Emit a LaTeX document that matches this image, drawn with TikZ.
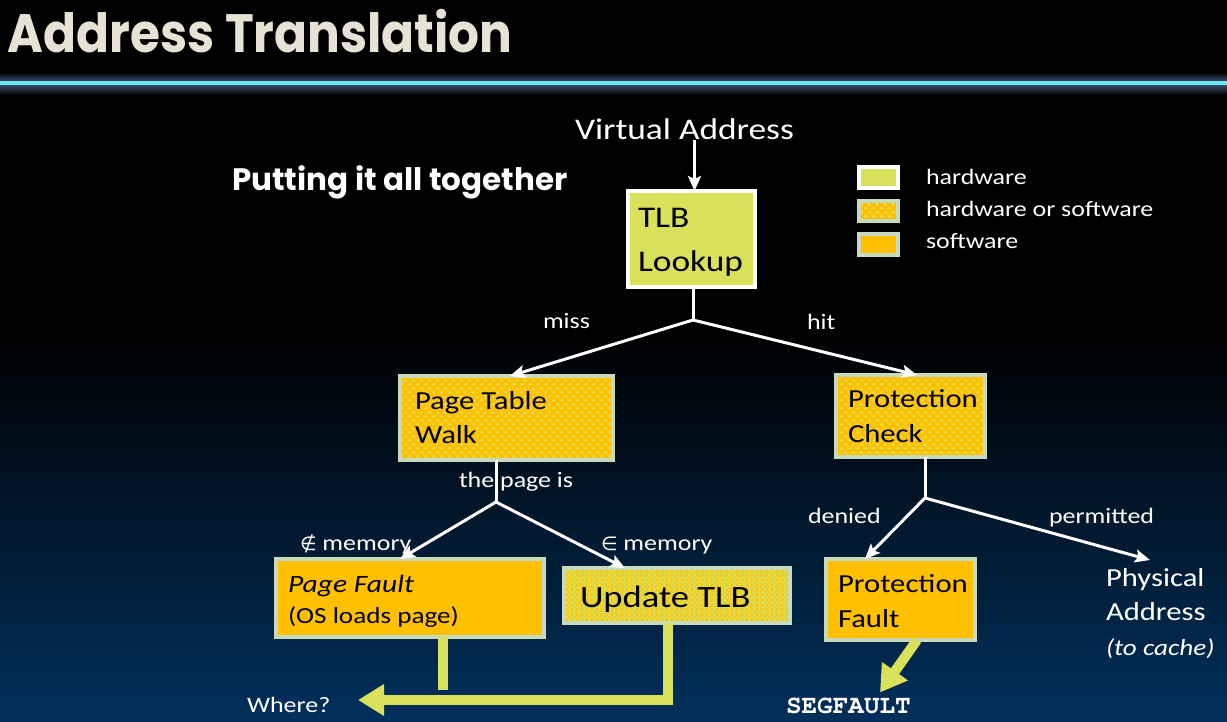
\documentclass[tikz,border=0pt]{standalone}
\usepackage{fontspec}
\usepackage{graphicx}
\setmainfont{Carlito}[FakeStretch=1.18]
\newfontfamily\titlefont{Poppins}
\newfontfamily\segfont{texgyrecursor-bold.otf}
\newfontfamily\symfont{DejaVu Sans}
\usetikzlibrary{arrows.meta,patterns.meta,calc}
\definecolor{hwcol}{RGB}{217,224,90}
\definecolor{swcol}{RGB}{255,192,0}
\definecolor{bordercol}{RGB}{200,218,190}
\definecolor{titlecol}{RGB}{232,226,214}
\definecolor{bgblue}{RGB}{2,48,92}
\definecolor{glowcol}{RGB}{70,90,125}
\definecolor{cyancol}{RGB}{110,232,242}
\tikzdeclarepattern{
  name=hwswdots, type=uncolored,
  bottom left={(0pt,0pt)}, top right={(8pt,8pt)}, tile size={(8pt,8pt)},
  code={\fill (2pt,2pt) circle (1.9pt); \fill (6pt,6pt) circle (1.9pt);}
}
\tikzdeclarepattern{
  name=weave, type=uncolored,
  bottom left={(0pt,0pt)}, top right={(5pt,5pt)}, tile size={(5pt,5pt)},
  code={\pgfsetlinewidth{0.9pt}\draw (0pt,0pt) -- (5pt,5pt); \draw (0pt,5pt) -- (2pt,3pt); \draw (3pt,2pt) -- (5pt,0pt);}
}
\begin{document}
\begin{tikzpicture}[x=1pt,y=-1pt,
  box/.style={draw=bordercol, line width=4pt, inner sep=0pt, outer sep=0pt, anchor=north west},
  hwbox/.style={box, draw=white, fill=hwcol},
  swbox/.style={box, fill=swcol},
  hwswbox/.style={box, preaction={fill=swcol}, preaction={pattern={hwswdots}, pattern color=hwcol}},
  utlbbox/.style={box, preaction={fill=hwcol}, preaction={pattern={weave}, pattern color=swcol}},
  txt/.style={inner sep=0pt, outer sep=0pt, anchor=base west, text=black},
  wtxt/.style={txt, text=white},
  wline/.style={draw=white, line width=3pt},
  warrow/.style={wline, -{Stealth[length=15pt,width=13pt,inset=3pt]}},
  yline/.style={draw=hwcol, line width=10pt},
  yarrow/.style={yline, -{Triangle[length=26pt,width=30pt]}},
  bigf/.style={font=\fontsize{30}{36}\selectfont},
  midf/.style={font=\fontsize{26}{32}\selectfont},
  smallf/.style={font=\fontsize{22}{26}\selectfont}
]
\useasboundingbox (0,0) rectangle (1227,722);
% background
\fill[black] (0,0) rectangle (1227,330);
\shade[top color=black, bottom color=bgblue] (0,329) rectangle (1227,722);
\shade[top color=black, bottom color=glowcol] (0,72) rectangle (1227,83);
\shade[top color=glowcol, bottom color=black] (0,83) rectangle (1227,95);
\draw[cyancol, line width=3.5pt] (0,83) -- (1227,83);

% titles
\node[txt, text=titlecol, font=\titlefont\bfseries\fontsize{54}{60}\selectfont] (title) at (8,53) {\scalebox{0.9}[1]{Address Translation}};
\node[txt, text=white, font=\titlefont\bfseries\fontsize{31}{36}\selectfont] (sub) at (232,191) {Putting it all together};

% legend
\node[hwbox, minimum width=39pt, minimum height=21pt] (lhw) at (859,167) {};
\node[hwswbox, minimum width=39pt, minimum height=20pt] (lhwsw) at (859,201) {};
\node[swbox, minimum width=39pt, minimum height=21pt] (lsw) at (859,234) {};
\node[wtxt, smallf] (lhwt) at (926,185) {hardware};
\node[wtxt, smallf] (lhwswt) at (926,217) {hardware or software};
\node[wtxt, smallf] (lswt) at (926,249) {software};

% boxes
\node[hwbox, minimum width=127pt, minimum height=96pt] (tlb) at (628,191) {};
\node[hwswbox, minimum width=213pt, minimum height=84pt] (ptw) at (400,376) {};
\node[hwswbox, minimum width=149pt, minimum height=82pt] (pc) at (836,375) {};
\node[swbox, minimum width=268pt, minimum height=78pt] (pf) at (276,559) {};
\node[utlbbox, minimum width=226pt, minimum height=55pt] (utlb) at (564,568) {};
\node[swbox, minimum width=149pt, minimum height=81pt] (protf) at (826,559) {};

% box texts
\node[txt, bigf] (tlbt1) at (638,228) {TLB};
\node[txt, bigf] (tlbt2) at (638,272) {Lookup};
\node[txt, midf] (ptwt1) at (415,409) {Page Table};
\node[txt, midf] (ptwt2) at (415,443) {Walk};
\node[txt, midf] (pct1) at (848,407) {Protection};
\node[txt, midf] (pct2) at (848,442) {Check};
\node[txt, font=\fontsize{25}{30}\selectfont\itshape] (pft1) at (288,592) {Page Fault};
\node[txt, font=\fontsize{23}{28}\selectfont] (pft2) at (288,623) {(OS loads page)};
\node[txt, font=\fontsize{31}{36}\selectfont] (utlbt) at (580,607) {Update TLB};
\node[txt, midf] (protft1) at (838,592) {Protection};
\node[txt, midf] (protft2) at (838,627) {Fault};

% free texts
\node[wtxt, font=\fontsize{30}{36}\selectfont] (va) at (575,140) {Virtual Address};
\node[wtxt, smallf] (miss) at (543,328) {miss};
\node[wtxt, smallf] (hit) at (807,329) {hit};
\node[wtxt, smallf] (pageis) at (459,487) {the page is};
\node[wtxt, smallf] (notin) at (300,550) {{\symfont\fontsize{19}{22}\selectfont ∉}\ memory};
\node[wtxt, smallf] (isin) at (601,550) {{\symfont\fontsize{19}{22}\selectfont ∈}\ memory};
\node[wtxt, smallf] (denied) at (808,523) {denied};
\node[wtxt, smallf] (perm) at (1049,523) {permitted};
\node[wtxt, align=left, anchor=north west, font=\fontsize{26}{34.5}\selectfont] (phys) at (1106,568) {Physical\\Address\\{\fontsize{23}{34.5}\selectfont\itshape (to cache)}};
\node[wtxt, font=\segfont\fontsize{26}{30}\selectfont] (seg) at (786,713) {SEGFAULT};
\node[wtxt, smallf] (where) at (247,712) {Where?};

% junctions
\coordinate (s1) at (693,320);
\coordinate (s2) at (496,502);
\coordinate (s3) at (925,498);
\coordinate (wtip) at (358,700);
\coordinate (ycorner) at (668,700);

% white connectors
\draw[warrow] ([xshift=3pt]tlb.north |- va.south) -- ([xshift=3pt]tlb.north);
\draw[wline] (s1 |- tlb.south) -- (s1);
\draw[warrow] (s1) -- ([xshift=110pt]ptw.north west);
\draw[warrow] (s1) -- ([xshift=81pt]pc.north west);
\draw[wline] (s2 |- ptw.south) -- (s2);
\draw[warrow] (s2) -- ([xshift=124pt]pf.north west);
\draw[warrow] (s2) -- ([xshift=61pt]utlb.north west);
\draw[wline] (s3 |- pc.south) -- (s3);
\draw[warrow] (s3) -- ([xshift=39pt]protf.north west);
\draw[warrow] (s3) -- ([xshift=44pt,yshift=8pt]phys.north west);

% yellow connectors
\draw[yline] ([xshift=167pt]pf.south west) -- ++(0,53);
\draw[yarrow] (ycorner |- utlb.south) -- (ycorner) -- (wtip);
\draw[yarrow] ([xshift=91pt]protf.south west) -- ([xshift=94pt,yshift=5pt]seg.north west);
\end{tikzpicture}
\end{document}
